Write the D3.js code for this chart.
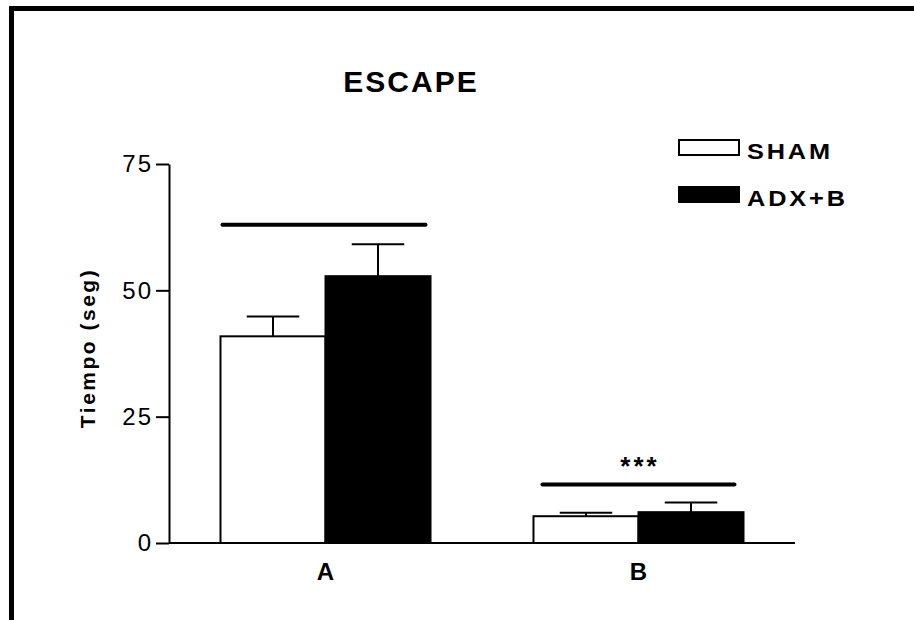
<!DOCTYPE html>
<html>
<head>
<meta charset="utf-8">
<script src="https://cdn.jsdelivr.net/npm/d3@7"></script>
<style>
  html, body { margin: 0; padding: 0; background: #fff; }
  svg { display: block; }
  text { font-family: Arial, "Liberation Sans", Helvetica, sans-serif; fill: #000; }
</style>
</head>
<body>
<svg id="chart" width="914" height="620"></svg>
<script>
// ---- data ----
const groups = ["A", "B"];
const seriesNames = ["SHAM", "ADX+B"];
const shamValues = [40.9, 5.3];
const shamErrors = [3.9, 0.7];
const adxValues = [52.8, 6.1];
const adxErrors = [6.3, 1.9];
const yTicks = [0, 25, 50, 75];
const sigLevels = [63.0, 11.6];
const sigLabels = ["", "***"];
const titleText = "ESCAPE";
const yLabelText = "Tiempo (seg)";

const svg = d3.select("#chart");

// frame (top and left edges)
svg.append("line").attr("x1", 9).attr("x2", 914).attr("y1", 8.5).attr("y2", 8.5)
  .attr("stroke", "#000").attr("stroke-width", 5);
svg.append("line").attr("x1", 11.5).attr("x2", 11.5).attr("y1", 6).attr("y2", 620)
  .attr("stroke", "#000").attr("stroke-width", 5);

const x0 = 169, x1 = 795;
const y = d3.scaleLinear().domain([0, 75]).range([543, 164]);
const xg = d3.scaleBand().domain(groups).range([x0, x1]).paddingInner(0.329).paddingOuter(0.1645);
const xs = d3.scaleBand().domain(seriesNames).range([0, xg.bandwidth()]).padding(0);

// y axis
const yAxis = d3.axisLeft(y).tickValues(yTicks).tickSize(13).tickPadding(3).tickSizeOuter(0);
const ya = svg.append("g").attr("transform", `translate(${x0},0)`).call(yAxis);
ya.select(".domain").attr("stroke", "#000").attr("stroke-width", 2);
ya.selectAll(".tick line").attr("stroke", "#000").attr("stroke-width", 2);
ya.selectAll(".tick text").attr("font-size", 24).attr("letter-spacing", 2)
  .attr("font-family", "Arial, 'Liberation Sans', sans-serif").attr("fill", "#000");

// x axis line
svg.append("line").attr("x1", x0).attr("x2", x1).attr("y1", y(0)).attr("y2", y(0))
  .attr("stroke", "#000").attr("stroke-width", 2);

// x labels
svg.selectAll(".xlab").data(groups).enter().append("text")
  .attr("class", "xlab")
  .attr("x", d => xg(d) + xg.bandwidth() / 2)
  .attr("y", 580)
  .attr("text-anchor", "middle")
  .attr("font-size", 24).attr("font-weight", "bold")
  .text(d => d);

// bars
const rows = [];
groups.forEach((g, i) => {
  rows.push({ g, s: "SHAM", v: shamValues[i], e: shamErrors[i], fill: "#fff" });
  rows.push({ g, s: "ADX+B", v: adxValues[i], e: adxErrors[i], fill: "#000" });
});

const bw = xs.bandwidth();
rows.forEach(r => {
  const cx = xg(r.g) + xs(r.s) + bw / 2;
  svg.append("line").attr("x1", cx).attr("x2", cx).attr("y1", y(r.v)).attr("y2", y(r.v + r.e))
    .attr("stroke", "#000").attr("stroke-width", 2);
  svg.append("line").attr("x1", cx - bw * 0.25).attr("x2", cx + bw * 0.25)
    .attr("y1", y(r.v + r.e)).attr("y2", y(r.v + r.e))
    .attr("stroke", "#000").attr("stroke-width", 2);
});
svg.selectAll(".bar").data(rows).enter().append("rect")
  .attr("class", "bar")
  .attr("x", d => xg(d.g) + xs(d.s))
  .attr("y", d => y(d.v))
  .attr("width", bw)
  .attr("height", d => y(0) - y(d.v))
  .attr("fill", d => d.fill)
  .attr("stroke", "#000").attr("stroke-width", 2);

// significance lines
const insets = [[2, 5], [9, 9]];
groups.forEach((g, i) => {
  svg.append("line")
    .attr("x1", xg(g) + insets[i][0]).attr("x2", xg(g) + xg.bandwidth() - insets[i][1])
    .attr("y1", y(sigLevels[i])).attr("y2", y(sigLevels[i]))
    .attr("stroke", "#000").attr("stroke-width", 4).attr("stroke-linecap", "round");
  if (sigLabels[i]) {
    svg.append("text")
      .attr("x", xg(g) + xg.bandwidth() / 2 + 1.5)
      .attr("y", y(sigLevels[i]) - 9)
      .attr("text-anchor", "middle")
      .attr("font-size", 26).attr("font-weight", "bold")
      .attr("letter-spacing", 3)
      .text(sigLabels[i]);
  }
});

// title
svg.append("text").attr("x", 411).attr("y", 92).attr("text-anchor", "middle")
  .attr("font-size", 30).attr("font-weight", "bold").attr("letter-spacing", 2)
  .text(titleText);

// y label
svg.append("text")
  .attr("transform", "translate(95,348) rotate(-90)")
  .attr("text-anchor", "middle")
  .attr("font-size", 21).attr("font-weight", "bold").attr("letter-spacing", 2.5)
  .text(yLabelText);

// legend
const legY = [140, 187];
const legFill = ["#fff", "#000"];
seriesNames.forEach((s, i) => {
  svg.append("rect").attr("x", 679).attr("y", legY[i]).attr("width", 60).attr("height", 15)
    .attr("fill", legFill[i]).attr("stroke", "#000").attr("stroke-width", 2);
  svg.append("text").attr("transform", `translate(747,${legY[i] + 19}) scale(1.15,1)`)
    .attr("font-size", 22).attr("font-weight", "bold").attr("letter-spacing", 2.5)
    .text(s);
});
</script>
</body>
</html>
